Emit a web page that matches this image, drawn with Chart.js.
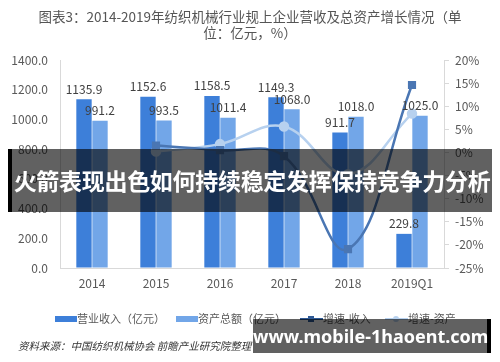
<!DOCTYPE html>
<html>
<head>
<meta charset="utf-8">
<script src="https://cdn.jsdelivr.net/npm/chart.js@4.4.1/dist/chart.umd.min.js"></script>
<style>
  body { margin: 0; background: #fff; }
  #wrap { position: relative; width: 500px; height: 362px; overflow: hidden;
          font-family: "Noto Sans CJK SC", "Noto Sans", sans-serif; }
  #chart { position: absolute; left: 0; top: 0; }
  #title { position: absolute; left: 35px; top: 8px; width: 430px; text-align: center;
           font-size: 13.5px; line-height: 16px; color: #555; }
  #legend { position: absolute; top: 310px; left: 55px; font-size: 11px; color: #595959;
            white-space: nowrap; }
  #legend span.item { position: absolute; top: 0; line-height: 16px; }
  #legend i { display: inline-block; vertical-align: middle; position: relative; margin-top: -2px; }
  #source { position: absolute; left: 18px; top: 338px; font-size: 10.5px; font-style: italic; color: #333; }
  #banner { position: absolute; left: 8px; top: 149px; width: 484px; height: 63px;
            background: rgba(0,0,0,0.62); border-left: 4px solid #000; box-sizing: border-box;
            color: #fff; font-weight: bold; font-size: 23px; line-height: 63px; text-align: center;
            white-space: nowrap; letter-spacing: -0.3px; }
  #mark { position: absolute; left: 253px; top: 319px; width: 238px; height: 34px;
          background: rgba(0,0,0,0.62); border-right: 4px solid #000; box-sizing: border-box;
          color: #fff; font-weight: bold; font-size: 18px; line-height: 34px; text-align: center;
          font-family: "Noto Sans", "DejaVu Sans", sans-serif; white-space: nowrap; }
</style>
</head>
<body>
<div id="wrap">
  <canvas id="chart" width="500" height="362"></canvas>
  <div id="title">图表3：2014-2019年纺织机械行业规上企业营收及总资产增长情况（单位：亿元，%）</div>
  <div id="legend"></div>
  <div id="source">资料来源：中国纺织机械协会 前瞻产业研究院整理</div>
  <div id="banner">火箭表现出色如何持续稳定发挥保持竞争力分析</div>
  <div id="mark">www.mobile-1haoent.com</div>
</div>
<script>
// chart data (亿元 / %)
const categories = ['2014', '2015', '2016', '2017', '2018', '2019Q1'];
const revenue = [1135.9, 1152.6, 1158.5, 1149.3, 911.7, 229.8];
const assets = [991.2, 993.5, 1011.4, 1068.0, 1018.0, 1025.0];
const revenueGrowth = [null, 1.5, 0.5, -0.8, -20.9, 14.6];
const assetsGrowth = [null, 0.2, 1.8, 5.6, -4.7, 8.4];
const leftTicks = [0, 200, 400, 600, 800, 1000, 1200, 1400];
const rightTicks = [-25, -20, -15, -10, -5, 0, 5, 10, 15, 20];

const seriesNames = ['营业收入（亿元）', '资产总额（亿元）', '增速-收入', '增速-资产'];
const colors = ['#3d7fd9', '#72a6e8', '#4a76b3', '#b7d1ef'];

const font = { family: '"Noto Sans CJK SC", "Noto Sans", sans-serif', size: 12 };
const tickColor = '#595959';
const axisColor = '#d9d9d9';

// value labels above the bars
const barLabels = {
  id: 'barLabels',
  afterDatasetsDraw(chart) {
    const ctx = chart.ctx;
    ctx.save();
    ctx.font = '12px ' + font.family;
    ctx.fillStyle = '#404040';
    ctx.textAlign = 'center';
    ctx.textBaseline = 'bottom';
    chart.data.datasets.forEach((ds, i) => {
      if (ds.type !== 'bar') return;
      chart.getDatasetMeta(i).data.forEach((bar, j) => {
        ctx.fillText(ds.data[j].toFixed(1), bar.x, bar.y - 4);
      });
    });
    ctx.restore();
  }
};

const data = {
  labels: categories,
  datasets: [
    {
      type: 'line', label: seriesNames[2], data: revenueGrowth, yAxisID: 'y1', order: 0,
      borderColor: colors[2], backgroundColor: colors[2], borderWidth: 2.5,
      pointStyle: 'rect', pointRadius: 4, tension: 0.4
    },
    {
      type: 'line', label: seriesNames[3], data: assetsGrowth, yAxisID: 'y1', order: 0,
      borderColor: colors[3], backgroundColor: colors[3], borderWidth: 2.5,
      pointStyle: 'circle', pointRadius: 4, tension: 0.4
    },
    {
      type: 'bar', label: seriesNames[0], data: revenue, yAxisID: 'y', order: 1,
      backgroundColor: colors[0], categoryPercentage: 0.5, barPercentage: 0.96
    },
    {
      type: 'bar', label: seriesNames[1], data: assets, yAxisID: 'y', order: 1,
      backgroundColor: colors[1], categoryPercentage: 0.5, barPercentage: 0.96
    }
  ]
};

new Chart(document.getElementById('chart'), {
  data: data,
  plugins: [barLabels],
  options: {
    responsive: false,
    animation: false,
    layout: { padding: { top: 60, bottom: 64, left: 0, right: 0 } },
    plugins: { legend: { display: false }, tooltip: { enabled: false } },
    scales: {
      x: {
        grid: { display: true, drawOnChartArea: false, drawTicks: false },
        border: { color: axisColor },
        ticks: { color: tickColor, font: font, padding: 8 },
        afterFit(s) { s.height = 30; }
      },
      y: {
        position: 'left', min: 0, max: 1400,
        afterBuildTicks(s) { s.ticks = leftTicks.map(v => ({ value: v })); },
        grid: { display: true, drawOnChartArea: false, drawTicks: false },
        border: { color: axisColor },
        ticks: { color: tickColor, font: font, padding: 12, callback: v => v.toFixed(1) },
        afterFit(s) { s.width = 60; }
      },
      y1: {
        position: 'right', min: -25, max: 20,
        afterBuildTicks(s) { s.ticks = rightTicks.map(v => ({ value: v })); },
        grid: { display: true, drawOnChartArea: false, drawTicks: true, tickLength: 5, color: axisColor },
        border: { color: axisColor },
        ticks: { color: tickColor, font: font, padding: 6, callback: v => v + '%' },
        afterFit(s) { s.width = 56; }
      }
    }
  }
});

// legend in html, same look as the original
const legendPos = [0, 121, 245, 330];
const legend = document.getElementById('legend');
seriesNames.forEach((name, i) => {
  const item = document.createElement('span');
  item.className = 'item';
  item.style.left = legendPos[i] + 'px';
  let sym;
  if (i < 2) {
    sym = '<i style="width:22px;height:6px;background:' + colors[i] + '"></i>';
  } else {
    const lineCol = i === 2 ? '#2f5a96' : colors[3];
    const mark = i === 2
      ? '<b style="position:absolute;left:8px;top:-2px;width:6px;height:6px;background:' + lineCol + '"></b>'
      : '<b style="position:absolute;left:8px;top:-2px;width:6px;height:6px;border-radius:3px;background:' + lineCol + '"></b>';
    sym = '<i style="width:23px;height:2px;background:' + lineCol + '">' + mark + '</i>';
  }
  item.innerHTML = sym + name;
  legend.appendChild(item);
});
</script>
</body>
</html>
